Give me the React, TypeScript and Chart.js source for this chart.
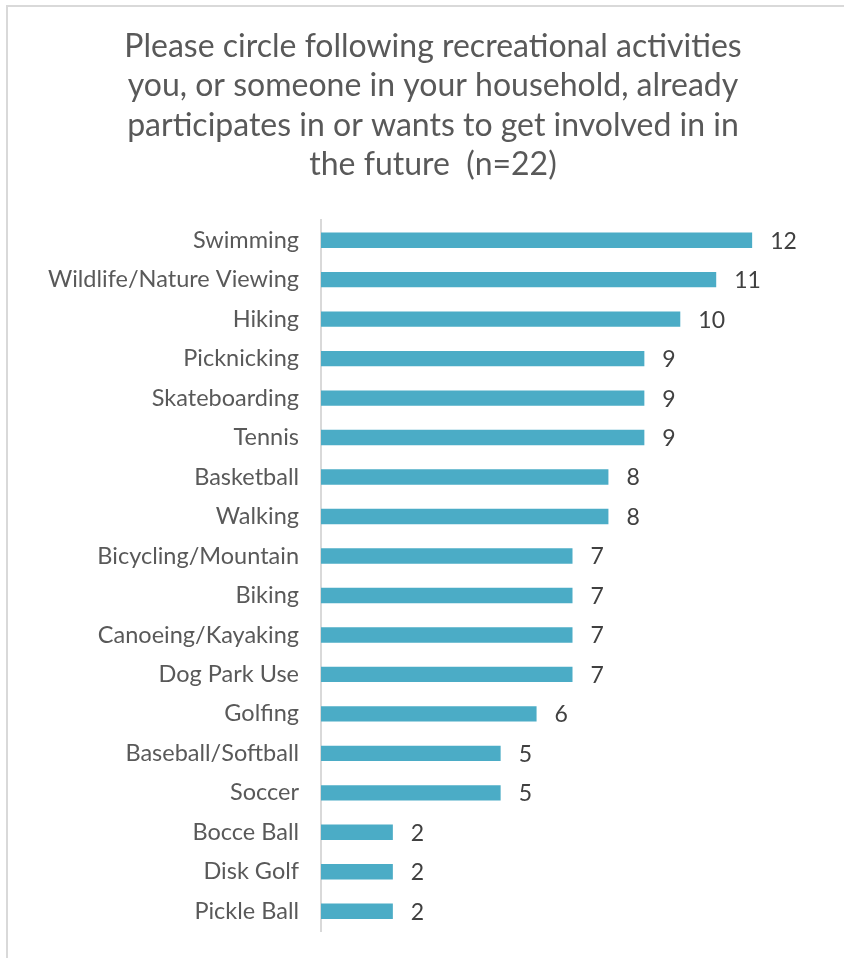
import React, { useEffect, useRef } from "react";
import { Chart, registerables } from "chart.js";

Chart.register(...registerables);

const categories = [
  "Swimming",
  "Wildlife/Nature Viewing",
  "Hiking",
  "Picknicking",
  "Skateboarding",
  "Tennis",
  "Basketball",
  "Walking",
  "Bicycling/Mountain",
  "Biking",
  "Canoeing/Kayaking",
  "Dog Park Use",
  "Golfing",
  "Baseball/Softball",
  "Soccer",
  "Bocce Ball",
  "Disk Golf",
  "Pickle Ball",
];

const counts = [12, 11, 10, 9, 9, 9, 8, 8, 7, 7, 7, 7, 6, 5, 5, 2, 2, 2];

const titleLines = [
  "Please circle following recreational activities",
  "you, or someone in your household, already",
  "participates in or wants to get involved in in",
  "the future  (n=22)",
];

const FONT = "Lato, 'Open Sans', sans-serif";

const valueLabels = {
  id: "valueLabels",
  afterDatasetsDraw(chart: any) {
    const ctx = chart.ctx;
    const meta = chart.getDatasetMeta(0);
    ctx.save();
    ctx.font = `23px ${FONT}`;
    ctx.fillStyle = "#404040";
    ctx.textAlign = "left";
    ctx.textBaseline = "middle";
    meta.data.forEach((bar: any, i: number) => {
      ctx.fillText(String(counts[i]), bar.x + 18, bar.y + 1);
    });
    ctx.restore();
  },
};

export default function App() {
  const ref = useRef<HTMLCanvasElement | null>(null);

  useEffect(() => {
    if (!ref.current) return;
    const chart = new Chart(ref.current, {
      type: "bar",
      data: {
        labels: categories,
        datasets: [
          {
            data: counts,
            backgroundColor: "#4BACC6",
            borderWidth: 0,
            barPercentage: 0.39,
            categoryPercentage: 1,
          },
        ],
      },
      options: {
        indexAxis: "y",
        responsive: false,
        animation: false,
        layout: { padding: { left: 42, right: 20, top: 0, bottom: 27 } },
        plugins: {
          legend: { display: false },
          tooltip: { enabled: false },
          title: {
            display: true,
            text: titleLines,
            color: "#595959",
            font: { family: FONT, size: 32, weight: "normal", lineHeight: 1.23 },
            padding: { top: 27, bottom: 36 },
          },
        },
        scales: {
          x: {
            display: false,
            min: 0,
            max: 14,
          },
          y: {
            grid: { display: false, drawTicks: false },
            border: { display: true, color: "#d9d9d9", width: 2 },
            ticks: {
              color: "#595959",
              font: { family: FONT, size: 23.5 },
              padding: 22,
              autoSkip: false,
            },
            afterFit(scale: any) {
              scale.width = 279;
              scale.paddingTop = 0;
              scale.paddingBottom = 0;
            },
          },
        },
      },
      plugins: [valueLabels],
    });
    return () => chart.destroy();
  }, []);

  return (
    <div style={{ position: "fixed", left: 0, top: 0, width: 844, height: 958, background: "#fff" }}>
      <canvas ref={ref} width={844} height={958} style={{ position: "absolute", left: 0, top: 0, width: 844, height: 958 }} />
      <div style={{ position: "absolute", left: 6, top: 5, width: 838, height: 2, background: "#d9d9d9" }} />
      <div style={{ position: "absolute", left: 6, top: 5, width: 2, height: 953, background: "#d9d9d9" }} />
    </div>
  );
}
